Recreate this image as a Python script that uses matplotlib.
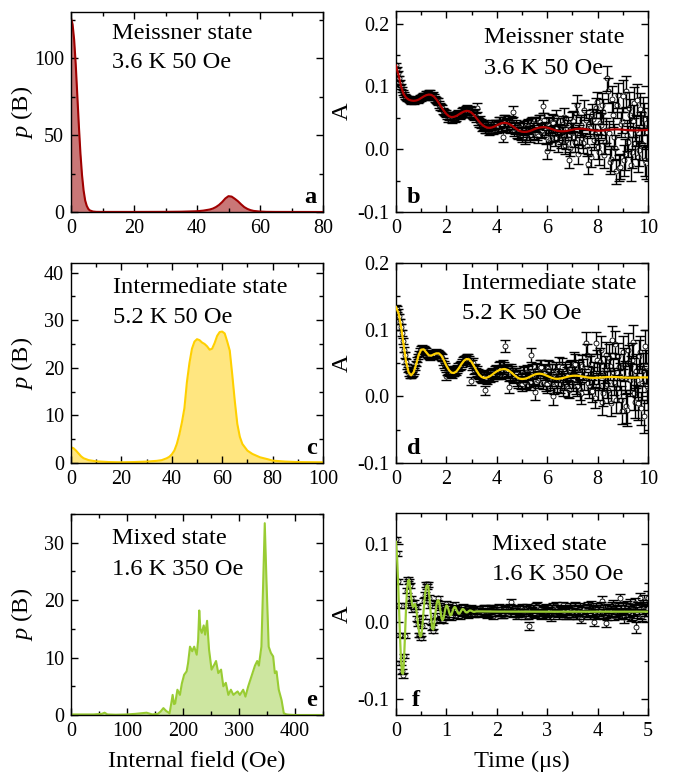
import numpy as np
import matplotlib
matplotlib.use('Agg')
import matplotlib.pyplot as plt
from matplotlib.ticker import MultipleLocator, FormatStrFormatter

plt.rcParams['font.family'] = 'Liberation Serif'
plt.rcParams['mathtext.fontset'] = 'custom'
plt.rcParams['mathtext.rm'] = 'Liberation Serif'
plt.rcParams['mathtext.it'] = 'Liberation Serif:italic'
plt.rcParams['axes.unicode_minus'] = False

# field distributions p(B), (field in Oe, p)
pb_meissner = [(0, 126), (0.5, 122), (1, 112), (1.5, 96), (2, 76), (2.5, 56), (3, 38),
               (3.5, 24), (4, 14), (4.5, 7.5), (5, 4), (5.5, 2), (6, 1), (7, 0.3), (8, 0.1),
               (10, 0.05), (20, 0.05), (30, 0.1), (35, 0.2), (40, 0.5), (42, 0.9), (44, 1.6),
               (45, 2.2), (46, 3.2), (47, 4.6), (48, 6.5), (49, 8.8), (50, 10.3), (51, 10.0),
               (52, 8.6), (53, 7), (54, 5), (55, 3.2), (56, 2), (57, 1.2), (58, 0.7), (60, 0.3),
               (62, 0.1), (65, 0.05), (80, 0)]
pb_inter = [(0, 3.3), (1, 3.1), (2, 2.6), (3, 2.0), (4, 1.4), (5, 1.0), (7, 0.6), (10, 0.35),
            (15, 0.2), (20, 0.15), (25, 0.2), (30, 0.3), (34, 0.45), (36, 0.6), (37, 0.8),
            (38, 1.0), (39, 1.3), (40, 1.8), (41, 2.6), (42, 4), (43, 6), (44, 8.5), (45, 11.5),
            (46, 17), (47, 21), (48, 24), (49, 25.5), (50, 26), (51, 25.8), (52, 25.3), (53, 25),
            (54, 24.5), (55, 23.8), (56, 24), (57, 25.2), (58, 26.7), (59, 27.5), (60, 27.6),
            (61, 27.2), (62, 25.5), (63, 23.6), (64, 18.5), (65, 13), (66, 8.2), (67, 5.5),
            (68, 4), (70, 2.6), (72, 1.9), (75, 1.2), (78, 0.8), (80, 0.5), (85, 0.3), (90, 0.2),
            (100, 0.15)]
pb_mixed = [(0, 0.1), (20, 0.1), (40, 0.1), (55, 0.2), (60, 0.4), (65, 0.1), (80, 0.05),
            (100, 0.1), (115, 0.2), (125, 0.3), (135, 0.4), (145, 0.1), (155, 0.2), (160, 0.6),
            (165, 1.2), (170, 0.7), (176, 0.3), (179, 2.0), (181.5, 3.5), (184, 1.9), (186, 2.0),
            (190, 4.4), (194.5, 3.5), (198, 5.5), (202, 7.0), (206.5, 7.6), (209, 9.0),
            (212.5, 11.9), (216.5, 11.1), (220, 11.9), (224.5, 10.5), (227, 13.0), (229, 18.2),
            (231, 15.0), (233.5, 14.3), (237, 15.6), (239.5, 14.0), (243, 16.4), (246.5, 11.4),
            (251, 7.9), (256, 8.8), (259, 9.4), (263, 7.3), (268, 7.9), (272, 5.0), (276.5, 5.6),
            (281, 3.5), (285.5, 4.4), (290, 3.5), (293.5, 3.8), (297.5, 4.1), (301.5, 3.5),
            (307.5, 4.4), (311.5, 3.2), (316.5, 5.0), (322.5, 6.8), (328.5, 8.6), (332.5, 9.4),
            (335.5, 8.6), (340, 11.9), (343, 22.4), (346, 33.4), (349, 23.6), (353, 11.9),
            (357, 10.8), (361, 10.2), (364, 7.3), (367, 7.6), (371, 4.4), (376, 2.6), (380, 0.3),
            (385, 0.1), (390, 0.05), (400, 0.0), (450, 0.0)]

# muSR asymmetry, values in units of 1e-3; two interleaved sets of bins per panel
dt_b = 0.08
asym_b = [134, 121, 106, 95, 87, 82, 80, 77, 78, 76,
          79, 78, 82, 83, 85, 88, 86, 89, 84, 83,
          78, 76, 68, 66, 59, 57, 50, 54, 48, 53,
          51, 57, 55, 61, 58, 64, 57, 61, 55, 57,
          66, 43, 41, 38, 33, 37, 30, 37, 31, 39,
          35, 42, 38, 20, 45, 40, 37, 44, 60, 33,
          27, 35, 24, 31, 20, 35, 26, 38, 30, 40,
          25, 43, 29, 68, 33, -3, 38, 24, 41, 18,
          36, 27, 15, 40, 6, 33, -17, 28, 45, 12,
          70, 22, 38, 10, 46, -24, 34, 56, 15, 66,
          4, 42, 70, -10, 30, 93, -20, 80, 20, -35,
          86, -28, 45, -18, 92, 12, 55, -5, 74, 30,
          -12, 64, 8, 48, -22, 35]
asym_b_mid = [127, 113, 100, 91, 84, 80, 79, 76, 78, 77,
              80, 79, 81, 85, 84, 87, 90, 85, 86, 80,
              77, 71, 67, 61, 58, 54, 52, 49, 52, 50,
              55, 54, 59, 57, 62, 60, 63, 56, 53, 51,
              45, 46, 36, 39, 32, 36, 31, 39, 33, 40,
              36, 43, 37, 46, 39, 44, 34, 41, 30, 37,
              26, 33, 22, 34, 25, 37, 23, 41, 27, 39,
              21, 44, 30, 47, 19, 36, 12, 43, 26, 50,
              9, 37, 22, 52, 14, 39, 2, 44, 20, 58,
              -8, 36, 18, 62, 5, 40, -12, 48, 24, 75,
              -5, 38, 60, 12, 113, 25, -15, 55, 2, 70,
              -30, 40, 85, -8, 22, 66, -25, 45, 10, 78,
              -2, 35, 58, -18, 28]
err_b = [4, 5, 6, 7, 9, 11, 13, 16, 20, 25, 30]   # per 1 us
fit_b = [133, 118, 100, 88, 82, 79, 77.5, 77, 77.5, 79,
         81.5, 84, 86, 87, 86.5, 84, 79.5, 73.5, 67, 61,
         56, 52.5, 51, 51.5, 53, 55.5, 58, 60, 61, 60.5,
         58, 54, 49, 44, 39.5, 36.5, 34.5, 34, 34.5, 36,
         38, 40, 41.5, 42, 41.5, 40, 37.5, 34.5, 31.5, 29,
         27.8, 27.5, 27.8, 28.8, 30.3, 32, 33.5, 34.5, 35, 35,
         34.3, 33.2, 31.8, 30.4, 29.3, 28.7, 28.5, 28.7, 29.3, 30.2,
         31, 31.8, 32.3, 32.5, 32.4, 32, 31.4, 30.7, 30.1, 29.7,
         29.5, 29.5, 29.7, 30.1, 30.6, 31, 31.3, 31.5, 31.5, 31.3,
         31, 30.7, 30.4, 30.1, 30, 30, 30, 30.1, 30.3, 30.5, 30.6]

dt_d = 0.08
asym_d = [133, 127, 112, 95, 70, 52, 40, 31, 33, 38,
          49, 60, 68, 72, 70, 67, 62, 60, 63, 62,
          66, 64, 62, 58, 48, 30, 40, 37, 33, 36,
          38, 44, 47, 53, 55, 57, 54, 23, 50, 42,
          38, 33, 29, 31, 9, 26, 30, 34, 30, 38,
          36, 42, 35, 45, 76, 38, 14, 40, 30, 34,
          24, 31, 20, 34, 22, 36, 25, 62, 30, 6,
          38, 27, 44, 22, 36, 18, 40, 28, 0, 35,
          20, 46, 25, 14, 38, 31, 10, 42, 24, 48,
          16, 35, 5, 40, 80, 20, 44, 8, 35, 80,
          15, 52, -8, 30, 62, 10, 45, 85, 22, -5,
          60, 30, -22, 48, -15, 70, 25, 55, 5, 38,
          -10, 66, 20, -30, 45, 10]
asym_d_mid = [131, 120, 104, 83, 62, 45, 34, 32, 35, 43,
              55, 64, 71, 71, 69, 64, 61, 62, 61, 64,
              65, 63, 60, 52, 45, 38, 36, 35, 37, 40,
              41, 46, 50, 55, 56, 57, 52, 47, 40, 36,
              34, 30, 27, 29, 27, 32, 28, 36, 33, 40,
              35, 44, 38, 42, 37, 40, 33, 37, 29, 33,
              22, 30, 19, 33, 24, 35, 21, 37, 26, 39,
              24, 43, 27, 38, 19, 42, 23, 36, 16, 39,
              28, 18, 44, 22, 35, 12, 40, 28, 50, 20,
              38, 10, 46, 25, 62, 14, 48, 28, -2, 54,
              30, 70, 5, 40, 18, 58, -10, 36, 78, 12,
              44, -5, 66, 28, -20, 52, 35, 82, -8, 24,
              60, -18, 40, 75, 15]
err_d = [4, 5, 6, 7, 9, 11, 13, 16, 20, 25, 30]
fit_d = [134, 125, 105, 78, 52, 36, 31.5, 36, 48, 62,
         70, 70.5, 66, 61.5, 61, 63, 64.5, 64.5, 61, 54,
         46, 39.5, 35.5, 35, 37.5, 42.5, 48.5, 53.5, 56, 55.5,
         51.5, 45, 38.5, 32.5, 29, 27.5, 28, 29.5, 32, 35,
         37.5, 39.5, 40.5, 41, 40, 38, 35, 31.5, 28.5, 26.5,
         26, 26.3, 27.3, 29, 31, 32.7, 33.7, 34, 33.5, 32.3,
         30.7, 29, 27.5, 26.5, 26.2, 26.5, 27.3, 28.3, 29.3, 30.2,
         30.8, 31, 30.9, 30.4, 29.7, 29, 28.3, 27.9, 27.7, 27.7,
         27.9, 28.1, 28.4, 28.7, 28.9, 29, 29, 28.9, 28.7, 28.5,
         28.3, 28.1, 28, 28, 28, 28.1, 28.2, 28.3, 28.4, 28.4, 28.4]

# mixed state: fine bins up to 1.6 us, coarser afterwards
dt_f_early, dt_f_late, t_f_late0 = 0.02, 0.04, 1.64
asym_f_early = [106, 88, 52, 21, -17, -53, -64, -69, -44, -18,
                21, 40, 55, 52, 47, 30, 25, 16, 25, 20,
                19, 4, -3, -17, -17, -21, -5, 6, 27, 35,
                48, 45, 48, 31, 21, 0, -7, -12, 1, 8,
                24, 25, 30, 21, 18, 3, 5, 1, 13, 14,
                23, 18, 19, 8, 10, 6, 15, 14, 22, 16,
                17, 9, 13, 7, 15, 12, 19, 13, 17, 10,
                14, 9, 16, 12, 17, 11, 15, 10, 16, 11, 14]
asym_f_late = [10, 16, 12, 18, 9, 14, 17, 8, 15, 11,
               19, 13, 9, 16, 12, 18, 25, 10, 14, 7,
               17, 12, 15, 9, 18, -5, 13, 16, 10, 20,
               12, 8, 15, 17, 11, 14, 6, 19, 12, 16,
               9, 14, 21, 11, 15, 8, 17, 12, 19, 10,
               14, 4, 16, 13, 20, 9, 15, 0, 18, 11,
               16, 27, 10, -1, 17, 12, 20, 8, 14, 19,
               30, 11, 6, 17, 13, 22, 9, 15, -7, 19,
               30, 8, 27, 14, 31]
asym_f_mid = [14, 11, 17, 13, 10, 16, 12, 18, 11, 15,
              13, 9, 17, 12, 15, 19, 11, 14, 16, 10,
              13, 18, 12, 15, 8, 17, 14, 11, 19, 12,
              16, 10, 14, 18, 13, 9, 16, 12, 20, 11,
              15, 13, 17, 8, 14, 19, 12, 16, 10, 15,
              18, 13, 9, 17, 12, 21, 14, 10, 16, 13,
              19, 11, 15, 8, 17, 14, 22, 12, 16, 9,
              15, 18, 11, 20, 13, 8, 16, 24, 12, 17,
              10, 21, 14, 18]
err_f = [3, 3, 4, 4, 4, 5, 5, 6, 6, 7, 8]   # per 0.5 us
fit_f_early = [103, 85, 55, 18, -20, -50, -66, -67, -48, -15,
               18, 42, 53, 54, 45, 32, 22, 19, 22, 23,
               17, 7, -5, -14, -19, -18, -8, 8, 24, 37,
               45, 47, 46, 34, 18, 2, -9, -10, -2, 10,
               21, 27, 28, 24, 15, 6, 2, 4, 10, 17,
               21, 20, 16, 11, 8, 9, 13, 17, 19, 18.5,
               15.5, 12.5, 10.5, 10.5, 12.5, 15, 16.5, 16, 14.5, 12.5,
               12, 12.3, 13.5, 14.5, 14.5, 14, 13.2, 12.8, 12.8, 13.2, 13.4]
t_fit_f_late = [2.0, 3.0, 4.0, 5.0]
fit_f_late = [13.1, 13.0, 13.0, 13.0]

W, H = 673, 781
FS = 17.6
MS = 3.6   # marker size, pt
fig = plt.figure(figsize=(W / 100, H / 100), dpi=100)


def box(l, t, w, h):
    return [l / W, 1 - (t + h) / H, w / W, h / H]


ax_a = fig.add_axes(box(71, 12, 252, 200))
ax_b = fig.add_axes(box(396, 11, 252, 201))
ax_c = fig.add_axes(box(71, 263, 252, 200))
ax_d = fig.add_axes(box(396, 263, 252, 200))
ax_e = fig.add_axes(box(71, 514, 252, 201))
ax_f = fig.add_axes(box(396, 513, 252, 202))


def style(ax, xmaj, xmin, ymaj, ymin):
    ax.xaxis.set_major_locator(MultipleLocator(xmaj))
    ax.xaxis.set_minor_locator(MultipleLocator(xmin))
    ax.yaxis.set_major_locator(MultipleLocator(ymaj))
    ax.yaxis.set_minor_locator(MultipleLocator(ymin))
    ax.tick_params(which='both', direction='in', top=True, right=True, labelsize=14.5, width=1)
    ax.tick_params(which='major', length=5, pad=5)
    ax.tick_params(which='minor', length=3)
    for s in ax.spines.values():
        s.set_linewidth(1.0)


def dist_panel(ax, pairs, line, fill, xlim, ylim, title, cond, letter, tx, ty):
    b, p = np.array(pairs).T
    ax.fill_between(b, p, 0, color=fill, lw=0)
    ax.plot(b, p, color=line, lw=1.5)
    ax.set_xlim(*xlim)
    ax.set_ylim(*ylim)
    ax.set_ylabel(r'$p$ (B)', fontsize=FS)
    ax.yaxis.set_label_coords(-0.143, 0.5)
    ax.text(tx, ty[0], title, transform=ax.transAxes, fontsize=FS)
    ax.text(tx, ty[1], cond, transform=ax.transAxes, fontsize=FS)
    ax.text(0.975, 0.045, letter, transform=ax.transAxes, fontsize=FS,
            fontweight='bold', ha='right')


def asym_panel(ax, t, a, err, t_fit, a_fit, line, xlim, ylim, title, cond, letter, tx, ty, lx):
    ax.set_xlim(*xlim)
    ax.set_ylim(*ylim)
    a = np.asarray(a) / 1000
    err = np.asarray(err) / 1000
    # marker radius in data units, so the bars stop at the open circle
    h_px = ax.get_position().height * H
    r = (MS / 2 * 100 / 72) / h_px * (ylim[1] - ylim[0])
    e = np.maximum(err, r)
    ax.plot(t, a, 'o', ms=MS, mfc='white', mec='black', mew=0.6, zorder=2)
    ax.vlines(t, a + r, a + e, color='black', lw=1.0, zorder=3)
    ax.vlines(t, a - e, a - r, color='black', lw=1.0, zorder=3)
    ax.plot(t, a + err, '_', ms=6.5, mew=1.0, color='black', zorder=3)
    ax.plot(t, a - err, '_', ms=6.5, mew=1.0, color='black', zorder=3)
    ax.plot(t_fit, np.array(a_fit) / 1000, color=line, lw=1.6, zorder=4)
    ax.yaxis.set_major_formatter(FormatStrFormatter('%.1f'))
    ax.set_ylabel('A', fontsize=FS)
    ax.yaxis.set_label_coords(-0.17, 0.5)
    ax.text(tx, ty[0], title, transform=ax.transAxes, fontsize=FS)
    ax.text(tx, ty[1], cond, transform=ax.transAxes, fontsize=FS)
    ax.text(lx, 0.045, letter, transform=ax.transAxes, fontsize=FS, fontweight='bold')


def seg_err(t, steps, width):
    idx = np.minimum((np.asarray(t) / width).astype(int), len(steps) - 1)
    return np.array(steps)[idx]


def interleave(vals, vals_mid, dt, t0=0.0):
    t1 = t0 + np.arange(len(vals)) * dt
    t2 = t0 + dt / 2 + np.arange(len(vals_mid)) * dt
    t = np.concatenate([t1, t2])
    a = np.concatenate([vals, vals_mid])
    order = np.argsort(t)
    return t[order], a[order]


# left column: field distributions
dist_panel(ax_a, pb_meissner, '#a00000', '#c97777', (0, 80), (0, 130),
           'Meissner state', '3.6 K 50 Oe', 'a', 0.163, (0.865, 0.72))
style(ax_a, 20, 10, 50, 25)
dist_panel(ax_c, pb_inter, '#ffd000', '#ffe680', (0, 100), (0, 42),
           'Intermediate state', '5.2 K 50 Oe', 'c', 0.167, (0.848, 0.698))
style(ax_c, 20, 10, 10, 5)
dist_panel(ax_e, pb_mixed, '#99cc33', '#cde6a0', (0, 450), (0, 35),
           'Mixed state', '1.6 K 350 Oe', 'e', 0.163, (0.85, 0.697))
style(ax_e, 100, 50, 10, 5)
ax_e.set_xlabel('Internal field (Oe)', fontsize=FS, labelpad=7)

# right column: asymmetry spectra
t_b, a_b = interleave(asym_b, asym_b_mid, dt_b)
asym_panel(ax_b, t_b, a_b, seg_err(t_b, err_b, 1.0),
           np.arange(len(fit_b)) * 0.1, fit_b, '#b00000', (0, 10), (-0.1, 0.22),
           'Meissner state', '3.6 K 50 Oe', 'b', 0.349, (0.84, 0.687), 0.042)
style(ax_b, 2, 1, 0.1, 0.05)

t_d, a_d = interleave(asym_d, asym_d_mid, dt_d)
asym_panel(ax_d, t_d, a_d, seg_err(t_d, err_d, 1.0),
           np.arange(len(fit_d)) * 0.1, fit_d, '#ffd000', (0, 10), (-0.1, 0.2),
           'Intermediate state', '5.2 K 50 Oe', 'd', 0.26, (0.868, 0.718), 0.042)
style(ax_d, 2, 1, 0.1, 0.05)

t_fl, a_fl = interleave(asym_f_late, asym_f_mid, dt_f_late, t_f_late0)
t_f = np.concatenate([np.arange(len(asym_f_early)) * dt_f_early, t_fl])
a_f = np.concatenate([asym_f_early, a_fl])
tf_fit = np.concatenate([np.arange(len(fit_f_early)) * 0.02, t_fit_f_late])
asym_panel(ax_f, t_f, a_f, seg_err(t_f, err_f, 0.5), tf_fit, fit_f_early + fit_f_late,
           '#99cc33', (0, 5), (-0.12, 0.14),
           'Mixed state', '1.6 K 350 Oe', 'f', 0.38, (0.817, 0.668), 0.062)
style(ax_f, 1, 0.5, 0.1, 0.05)
ax_f.set_xlabel('Time (\u03bcs)', fontsize=FS, labelpad=7)

fig.savefig('out.png', dpi=100)
